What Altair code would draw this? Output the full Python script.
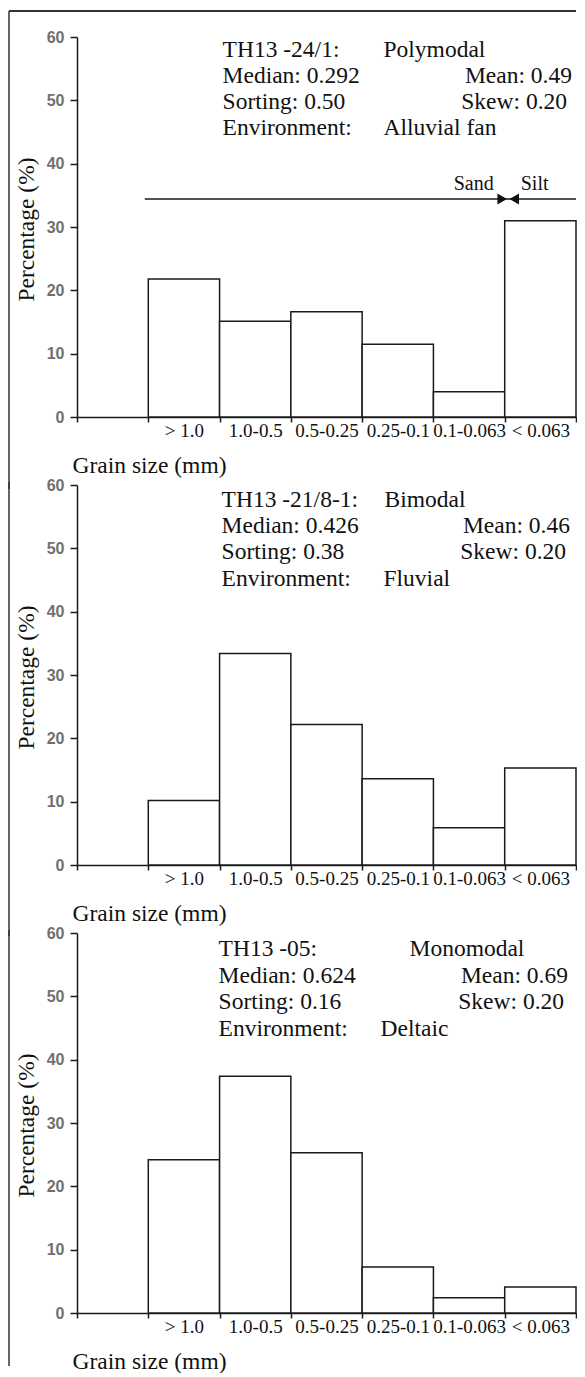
import altair as alt
import pandas as pd

# ---------------- data ----------------
categories = ["> 1.0", "1.0-0.5", "0.5-0.25", "0.25-0.1", "0.1-0.063", "< 0.063"]
axis_domain = [" "] + categories          # leading empty slot before the first class
y_ticks = [0, 10, 20, 30, 40, 50, 60]

pct_24_1 = [21.8, 15.1, 16.6, 11.5, 4.0, 31.0]
pct_21_8_1 = [10.2, 33.4, 22.2, 13.6, 5.9, 15.3]
pct_05 = [24.2, 37.4, 25.3, 7.25, 2.4, 4.1]

samples = ["TH13 -24/1:", "TH13 -21/8-1:", "TH13 -05:"]
modality = ["Polymodal", "Bimodal", "Monomodal"]
medians = ["0.292", "0.426", "0.624"]
means = ["0.49", "0.46", "0.69"]
sortings = ["0.50", "0.38", "0.16"]
skews = ["0.20", "0.20", "0.20"]
environments = ["Alluvial fan", "Fluvial", "Deltaic"]

# text line baselines (percentage units) per panel
line_y = [
    [56.84, 52.74, 48.63, 44.53],
    [56.6, 52.4, 48.3, 44.0],
    [56.3, 52.1, 48.0, 43.7],
]
sand_silt_y = 34.42
sand_silt_label_y = 35.84

W, H = 499, 380
SERIF = "Liberation Serif"
SANS = "Liberation Sans"
INK = "#1a1a1a"

xs = alt.Scale(domain=axis_domain, paddingInner=0, paddingOuter=0)
ys = alt.Scale(domain=[0, 60])


def text_item(txt, cat, band_pos, y, dx, align, size=23.5):
    d = pd.DataFrame({"cat": [cat], "pct": [y], "t": [txt]})
    return alt.Chart(d).mark_text(
        font=SERIF, fontSize=size, color="#111", align=align,
        baseline="alphabetic", dx=dx
    ).encode(
        x=alt.X("cat:N", scale=xs, bandPosition=band_pos),
        y=alt.Y("pct:Q", scale=ys),
        text="t:N",
    )


def frame(top, bottom, with_top_line=False):
    one = pd.DataFrame({"k": [0]})
    layers = [alt.Chart(one).mark_rule(stroke="#333", strokeWidth=1.5).encode(
        x=alt.value(-68), y=alt.value(top), y2=alt.value(bottom))]
    if with_top_line:
        layers.append(alt.Chart(one).mark_rule(stroke="#333", strokeWidth=2).encode(
            x=alt.value(-68), x2=alt.value(W), y=alt.value(top)))
    return layers


def panel(i, values, col1_dx, col2_dx, right_dx, frame_top, frame_bottom, arrow=False):
    df = pd.DataFrame({"cat": categories, "pct": values})
    bars = alt.Chart(df).mark_bar(fill="white", stroke=INK, strokeWidth=1.5).encode(
        x=alt.X("cat:N", scale=xs, axis=alt.Axis(
            title="Grain size (mm)", titleFont=SERIF, titleFontSize=23.5,
            titleFontWeight="normal", titleColor="#111", titleX=-5, titleY=55,
            titleAlign="left", titleBaseline="alphabetic", titleAngle=0,
            labelFont=SERIF, labelFontSize=19, labelColor="#111", labelAngle=0,
            labelBaseline="alphabetic", labelPadding=14, labelOverlap=False,
            tickSize=5, tickBand="extent", tickColor=INK, tickWidth=1.5,
            domainColor=INK, domainWidth=1.5, grid=False)),
        y=alt.Y("pct:Q", scale=ys, axis=alt.Axis(
            values=y_ticks, title="Percentage (%)", titleFont=SERIF,
            titleFontSize=23.5, titleFontWeight="normal", titleColor="#111",
            titleX=-44, titleY=192, titleAlign="center", titleBaseline="alphabetic",
            labelFont=SANS, labelFontSize=16, labelFontWeight="bold",
            labelColor="#707070", labelPadding=6,
            tickSize=7, tickColor=INK, tickWidth=1.5, domainColor=INK,
            domainWidth=1.5, grid=False)),
    )
    ly = line_y[i]
    texts = [
        text_item(samples[i], "1.0-0.5", 0, ly[0], col1_dx, "left"),
        text_item("Median: " + medians[i], "1.0-0.5", 0, ly[1], col1_dx, "left"),
        text_item("Sorting: " + sortings[i], "1.0-0.5", 0, ly[2], col1_dx, "left"),
        text_item("Environment:", "1.0-0.5", 0, ly[3], col1_dx, "left"),
        text_item(modality[i], "0.5-0.25", 0.5, ly[0], col2_dx[0], "left"),
        text_item(environments[i], "0.5-0.25", 0.5, ly[3], col2_dx[1], "left"),
        text_item("Mean: " + means[i], "< 0.063", 1, ly[1], right_dx[0], "right"),
        text_item("Skew: " + skews[i], "< 0.063", 1, ly[2], right_dx[1], "right"),
    ]
    layers = frame(frame_top, frame_bottom, with_top_line=(i == 0)) + [bars] + texts
    if arrow:
        line_df = pd.DataFrame({"cat": ["> 1.0"], "cat2": ["< 0.063"], "pct": [sand_silt_y]})
        line = alt.Chart(line_df).mark_rule(stroke=INK, strokeWidth=1.5, xOffset=-3.5).encode(
            x=alt.X("cat:N", scale=xs, bandPosition=0),
            x2=alt.X2("cat2", bandPosition=1),
            y=alt.Y("pct:Q", scale=ys),
        )
        tri_df = pd.DataFrame({"cat": ["< 0.063"], "pct": [sand_silt_y]})
        tri_r = alt.Chart(tri_df).mark_point(shape="triangle-right", filled=True, fill="#111",
                                             size=121, opacity=1, xOffset=-2.5).encode(
            x=alt.X("cat:N", scale=xs, bandPosition=0), y=alt.Y("pct:Q", scale=ys))
        tri_l = alt.Chart(tri_df).mark_point(shape="triangle-left", filled=True, fill="#111",
                                             size=121, opacity=1, xOffset=9.5).encode(
            x=alt.X("cat:N", scale=xs, bandPosition=0), y=alt.Y("pct:Q", scale=ys))
        layers += [line, tri_r, tri_l,
                   text_item("Sand", "< 0.063", 0, sand_silt_label_y, -11, "right", 20),
                   text_item("Silt", "< 0.063", 0, sand_silt_label_y, 16, "left", 20)]
    return alt.layer(*layers).properties(width=W, height=H)


p1 = panel(0, pct_24_1, 3, (57, 57), (-4, -9), -26, 452, arrow=True)
p2 = panel(1, pct_21_8_1, 2, (58, 57), (-6, -10), -3, 451)
p3 = panel(2, pct_05, -1, (83, 54), (-8, -12), -3, 433)

chart = alt.vconcat(p1, p2, p3, spacing=68, bounds="flush").properties(
    padding={"left": 0, "top": 2, "right": 0, "bottom": 0},
    background="white",
).configure_view(stroke=None)

chart.save("out.html", embed_options={"renderer": "svg", "actions": False})
